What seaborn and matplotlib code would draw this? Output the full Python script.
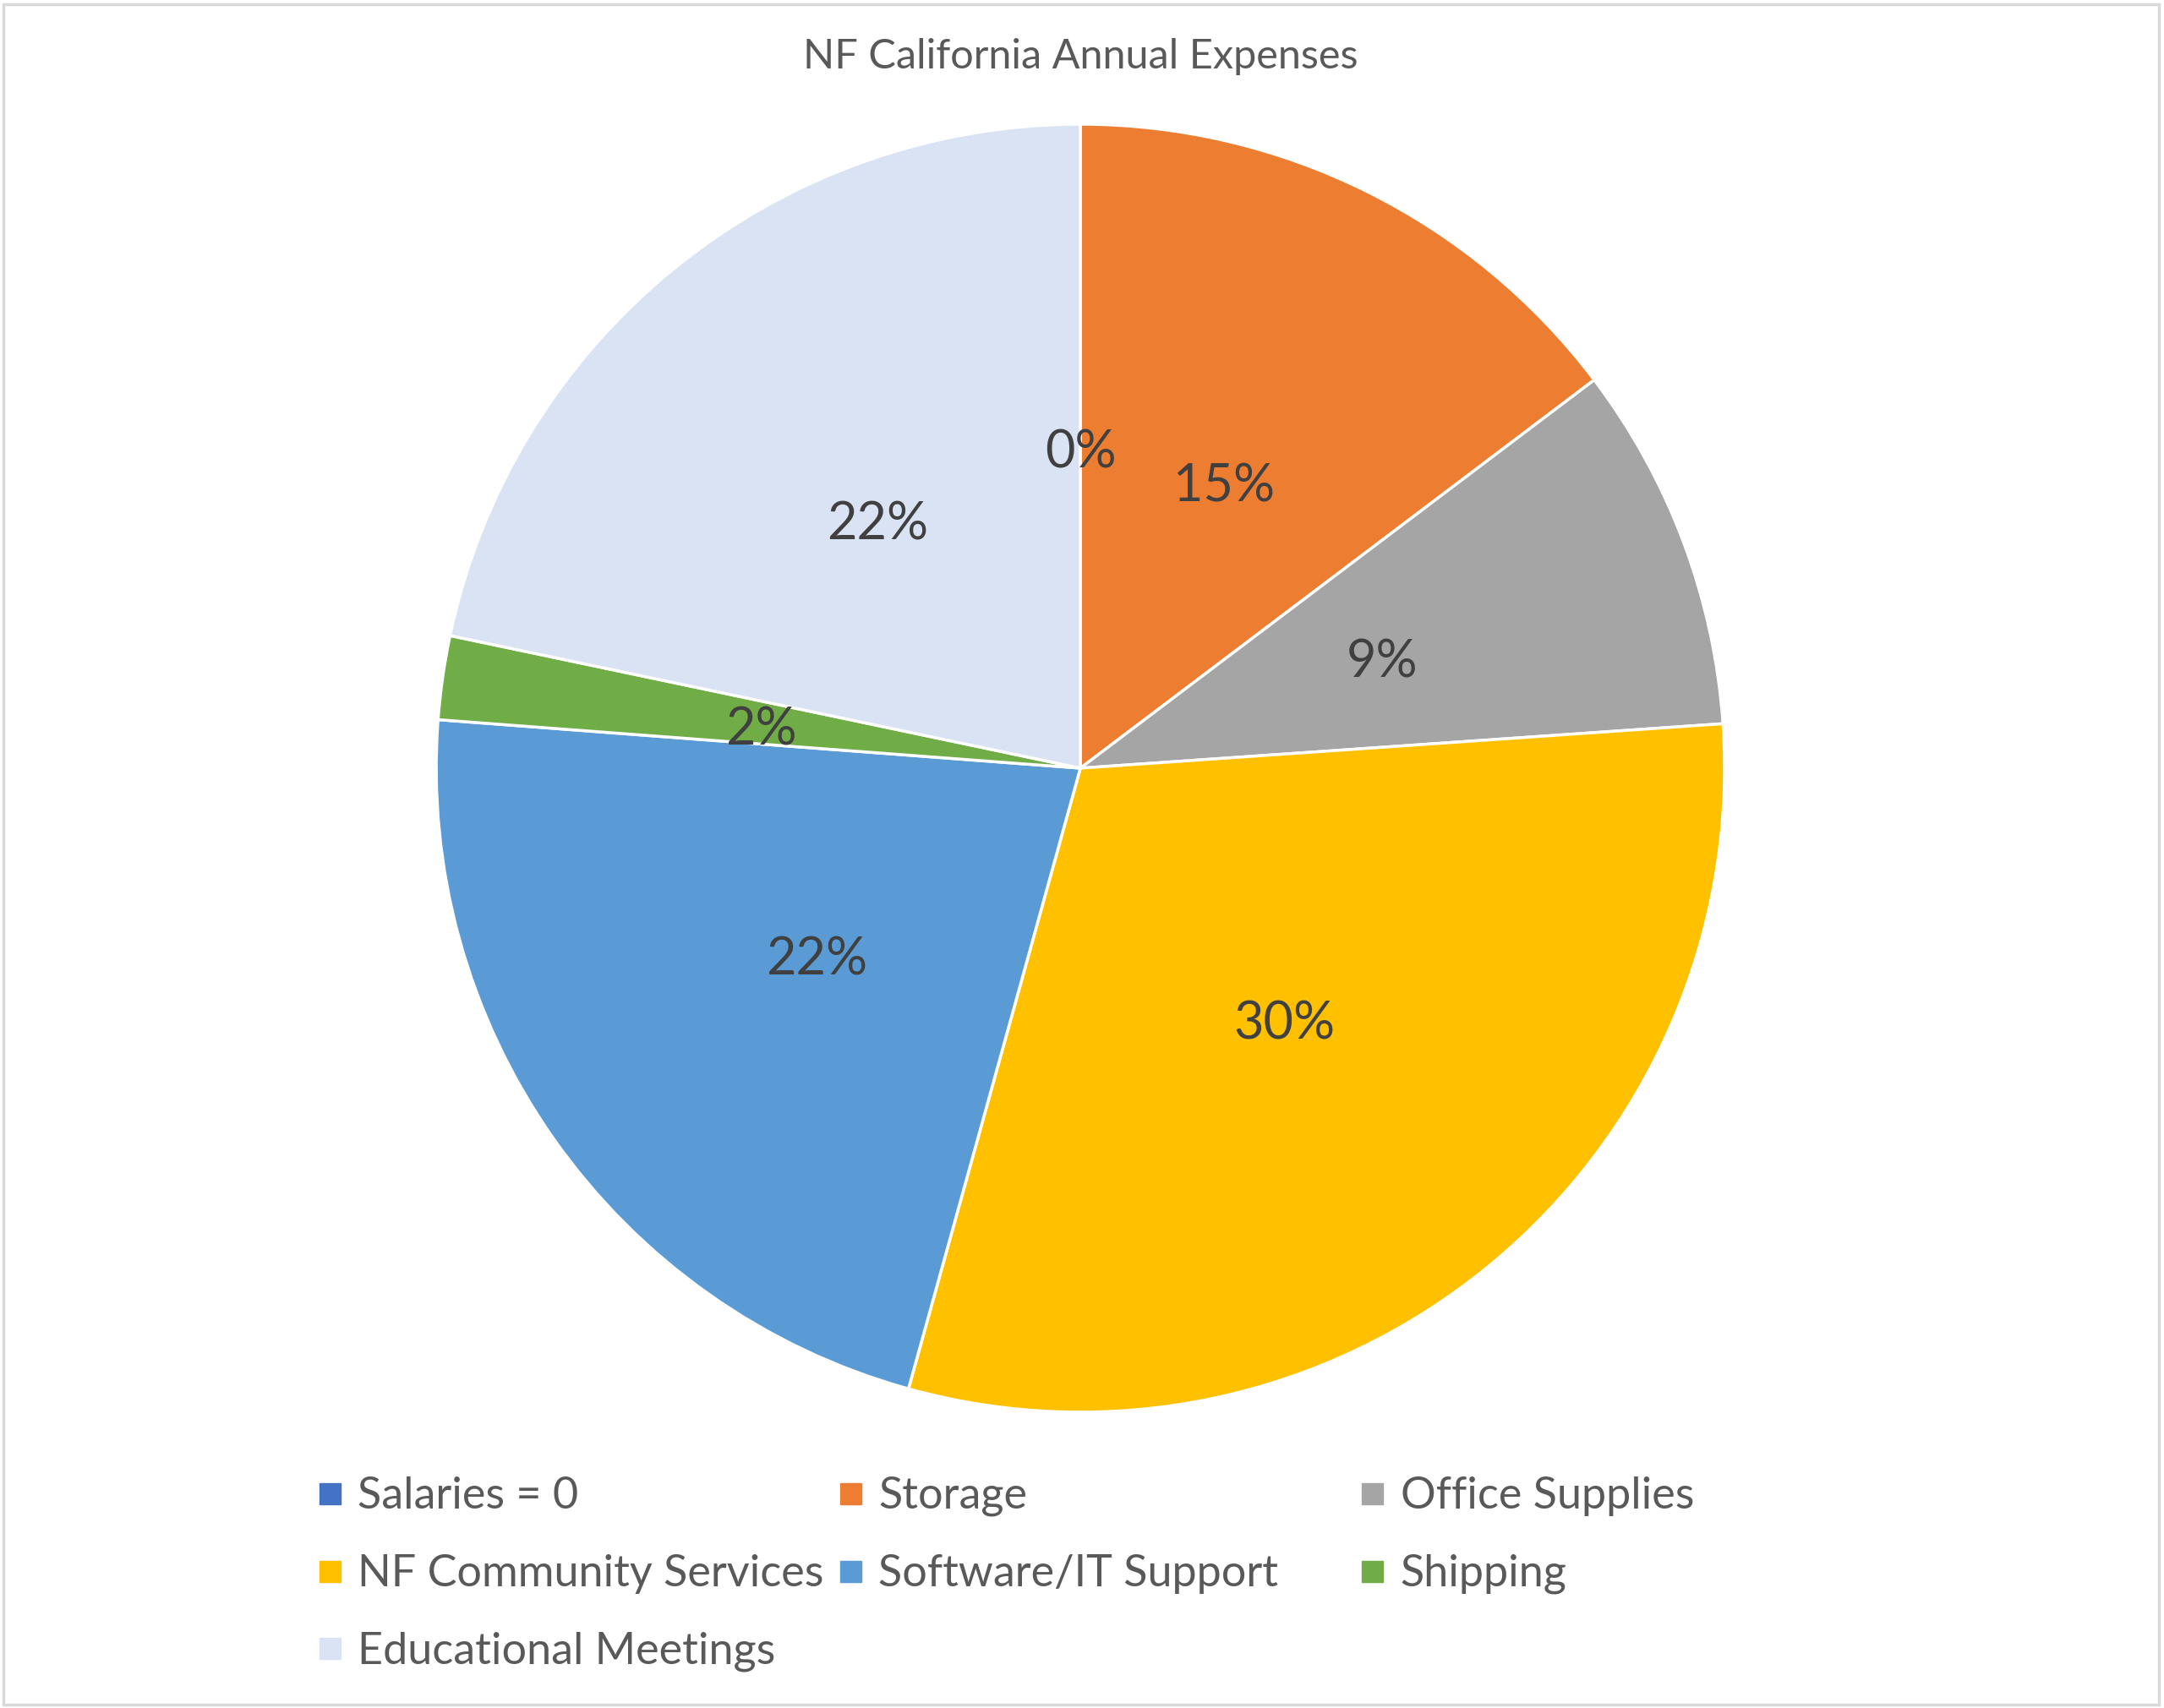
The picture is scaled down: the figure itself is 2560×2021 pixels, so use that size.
import matplotlib
matplotlib.use("Agg")
import matplotlib.pyplot as plt
import seaborn as sns
from matplotlib.lines import Line2D
from matplotlib.patches import Rectangle

# data (shares, in %)
categories = ["Salaries = 0", "Storage", "Office Supplies", "NF Community Services",
              "Software/IT Support", "Shipping", "Educational Meetings"]
shares = [0, 14.7, 9.2, 30.4, 21.9, 2.1, 21.7]
colors = ["#4472C4", "#ED7D31", "#A5A5A5", "#FFC000", "#5B9BD5", "#70AD47", "#DAE3F3"]

sns.set_theme(style="white")
plt.rcParams['font.family'] = ['Lato', 'DejaVu Sans']

fig = plt.figure(figsize=(25.6, 20.21), dpi=100)
fig.patch.set_facecolor("white")

# pie area, centre ~ (1278, 909) px, radius ~762 px
ax = fig.add_axes([0.2016, 0.1732, 0.5953, 0.7541])
wedges, texts, autotexts = ax.pie(
    shares, colors=colors, startangle=90, counterclock=False,
    autopct="%1.0f%%", pctdistance=0.5,
    wedgeprops=dict(edgecolor="white", linewidth=2.5),
    textprops=dict(fontsize=44, color="#404040"))
for t in autotexts:
    x, y = t.get_position()
    t.set_position((x, y - 0.011))
ax.set_xlim(-1, 1)
ax.set_ylim(-1, 1)
ax.axis("off")

fig.text(0.4995, 0.967, "NF California Annual Expenses", ha="center", va="center",
         fontsize=35, color="#595959")

# legend laid out in three equal-width columns like Excel
cols = [[0, 3, 6], [1, 4], [2, 5]]
col_x = [0.1463, 0.3869, 0.628]
for cx, idx in zip(col_x, cols):
    handles = [Line2D([], [], marker="s", linestyle="none", markersize=18,
                      markerfacecolor=colors[i], markeredgecolor=colors[i]) for i in idx]
    fig.legend(handles, [categories[i] for i in idx], loc="upper left",
               bbox_to_anchor=(cx, 0.1356), frameon=False, fontsize=37.5,
               labelcolor="#595959", handlelength=0.6, handletextpad=0.34,
               labelspacing=0.86, borderpad=0, borderaxespad=0)

# light outer border
fig.add_artist(Rectangle((0.0016, 0.002), 0.9962, 0.9955, transform=fig.transFigure,
                         fill=False, edgecolor="#D9D9D9", linewidth=2.5))

fig.savefig("out.png", dpi=100, facecolor="white")
